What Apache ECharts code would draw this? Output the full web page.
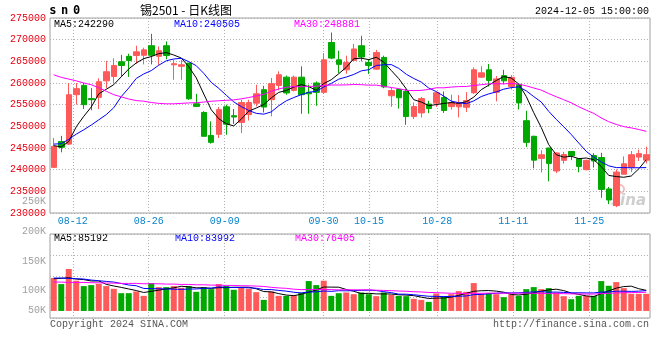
<!DOCTYPE html>
<html><head><meta charset="utf-8">
<script src="https://cdn.jsdelivr.net/npm/echarts@6/dist/echarts.min.js"></script>
<style>html,body{margin:0;padding:0;background:#fff}#c{width:660px;height:360px}</style>
</head><body><div id="c"></div>
<script>
// ---- data ----
const dates = ['08-07','08-08','08-09','08-12','08-13','08-14','08-15','08-16','08-19','08-20',
 '08-21','08-22','08-23','08-26','08-27','08-28','08-29','08-30','09-02','09-03',
 '09-04','09-05','09-06','09-09','09-10','09-11','09-12','09-13','09-18','09-19',
 '09-20','09-23','09-24','09-25','09-26','09-27','09-30','10-08','10-09','10-10',
 '10-11','10-14','10-15','10-16','10-17','10-18','10-21','10-22','10-23','10-24',
 '10-25','10-28','10-29','10-30','10-31','11-01','11-04','11-05','11-06','11-07',
 '11-08','11-11','11-12','11-13','11-14','11-15','11-18','11-19','11-20','11-21',
 '11-22','11-25','11-26','11-27','11-28','11-29','12-02','12-03','12-04','12-05'];
const labelDates = ['08-12','08-26','09-09','09-30','10-15','10-28','11-11','11-25'];

const opens = [240530,246500,245900,257300,259450,256400,256700,260500,261500,264900,
 266150,266350,266400,268600,266150,268600,264200,263850,264600,255200,
 253200,247900,248150,254500,252450,250900,252700,255350,258450,256150,
 259450,261350,258300,261350,257850,260000,257850,269350,265350,263050,
 265200,268600,264750,263200,265900,257050,258500,258050,252250,253100,
 255150,255350,256650,254550,254500,254400,257750,261350,263050,257850,
 261700,259200,259700,251300,247700,242600,245000,239700,242150,244200,
 242500,240000,243250,242800,235550,231700,238950,240550,242900,242200];
const closes = [245370,245150,257300,258700,255000,256150,260300,262600,264050,264050,
 265200,267200,267650,266400,267450,266350,264450,264200,256350,254600,
 247700,246300,253850,250500,252150,255500,255500,257500,254450,259850,
 261900,257700,261350,257300,257500,257850,265350,265750,264300,264750,
 267850,266000,264050,267050,259100,258250,256600,252250,254550,256400,
 254100,257750,253650,255500,255500,255950,263050,262350,260600,260950,
 260500,261300,255400,246300,242200,243450,241450,243850,243500,243200,
 240750,242150,242000,235450,233000,239450,241350,243450,243700,243450];
const lows = [240450,244000,245700,255000,254000,253700,254000,258800,260000,261500,
 261400,264450,264300,264300,264200,265500,260750,260750,256100,254450,
 247600,246000,247300,248050,250550,248450,251350,254600,253200,252300,
 258300,257300,258050,252900,252900,254750,257500,265500,262300,262150,
 265000,265000,262100,263050,258800,254500,254100,250350,251700,252050,
 253050,254450,253100,253850,252050,253300,257500,261150,259200,255750,
 259700,258500,253900,245200,240300,239350,237300,239200,241400,242200,
 239400,239850,240500,233500,232050,231350,238850,239450,242000,241450];
const highs = [247300,247800,260000,260000,260000,258800,261100,265100,265700,266500,
 266750,268600,268150,271350,268450,269600,265350,265350,264650,257500,
 253500,251150,254450,255000,254000,256150,256150,259600,259350,261150,
 262700,261700,261700,263850,259600,260350,266900,271650,267450,266300,
 269050,270900,265500,267650,266300,259000,258700,258600,255500,256800,
 255900,258050,258050,257300,257200,257900,263600,263850,264400,261600,
 263050,261800,259900,253600,247850,244500,245050,244000,244100,244300,
 242600,242300,243800,243900,236000,240050,243050,244300,244600,245300];
const volumes = [136000,111000,173400,124900,102700,106800,112400,102700,91600,73500,
 73500,80500,62400,115200,98500,98500,102700,95700,102700,79100,
 98500,90200,111000,102700,87400,98500,91600,77700,45800,80500,
 62400,62400,65200,74900,123500,106800,124900,62400,73500,76300,
 69400,76300,69400,61100,76300,66600,62400,61100,50000,45800,
 37500,72200,61100,69400,81900,79100,115200,72200,73500,69400,
 56900,68000,62400,90200,98500,90200,94400,76300,61100,48600,
 62400,62400,62400,123500,104100,119300,94400,70800,70800,70800];
// moving-average values at the left edge (history before the window)
const ma5Head = [245550,245250,246500,249900];
const ma10Head = [245900,246000,247000,248200,249200,250300,251500,252700,254300];
const ma30Head = [261900,261300,260900,260500,260000,259600,258900,258100,257300,256800,
 256300,255950,255800,255500,255300,255200,255200,255300,255400,255450,
 255600,255800,255900,256000,256100,256350,256650,257000,257400];
const volMa5Head = [133200,134600,137400,131800];
const volMa10Head = [136000,136000,134600,133200,131800,127700,124900,122100,119300];
const volMa30Head = [119300,119300,117900,117900,117900,116600,116600,115200,115200,113800,
 113800,113800,112400,112400,112400,111000,111000,109600,109600,108200,
 108200,106800,106800,105500,105500,104100,104100,102700,101300];
const priceMaLabels = ['MA5:242290','MA10:240505','MA30:248881'];
const volMaLabels = ['MA5:85192','MA10:83992','MA30:76405'];
const volTickLabels = ['200K','150K','100K','50K'];
const strayTickLabel = '250K';
const titleText = '锡2501 - 日K线图';
const stampText = '2024-12-05 15:00:00';
const footLeft = 'Copyright 2024 SINA.COM';
const footRight = 'http://finance.sina.com.cn';

// ---- chart ----
const MONO = 'Liberation Mono';
const RED = '#ff5a5a', GREEN = '#00a800', GRIDC = '#b0b0b0', BORDER = '#a0a0a0';
const MA_COLORS = ['#000000', '#0000ff', '#ff00ff'];
function calcMA(src, n, head) {
  return src.map((v, i) => {
    if (i < head.length) return head[i];
    let s = 0; for (let k = i - n + 1; k <= i; k++) s += src[k];
    return Math.round(s / n);
  });
}
const showIdx = (i) => labelDates.indexOf(dates[i]) >= 0;
const dotted = { color: GRIDC, type: [1, 2], width: 1 };

const chart = echarts.init(document.getElementById('c'), null, { renderer: 'canvas' });
function maLine(name, data, color, xi, yi) {
  return { name, type: 'line', data, xAxisIndex: xi, yAxisIndex: yi, showSymbol: false, symbol: 'none',
    lineStyle: { color, width: 1 }, z: 5, silent: true };
}
function txt(text, x, y, fill, font, align, valign) {
  return { type: 'text', silent: true, style: { text, x, y, fill, font, textAlign: align || 'left', align: align || 'left', textVerticalAlign: valign || 'middle', verticalAlign: valign || 'middle' } };
}
const volLabelY = [231, 261, 290, 310.5];
const graphics = [
  { type: 'text', silent: true, style: { text: '{a|s}{a|n}{a|0}', x: 47, y: 11, textVerticalAlign: 'middle', verticalAlign: 'middle',
    rich: { a: { font: 'bold 12px "DejaVu Sans Mono"', fill: '#000', padding: [0, 2.3, 0, 2.3] } } } },
  txt(titleText, 140, 10, '#000', '12px "Noto Sans CJK SC"'),
  txt(stampText, 649, 11, '#000', '10px ' + MONO, 'right'),
  txt(priceMaLabels[0], 54, 24, MA_COLORS[0], '10px ' + MONO),
  txt(priceMaLabels[1], 174, 24, MA_COLORS[1], '10px ' + MONO),
  txt(priceMaLabels[2], 294, 24, MA_COLORS[2], '10px ' + MONO),
  txt(volMaLabels[0], 54, 238.5, MA_COLORS[0], '10px ' + MONO),
  txt(volMaLabels[1], 175, 238.5, MA_COLORS[1], '10px ' + MONO),
  txt(volMaLabels[2], 295, 238.5, MA_COLORS[2], '10px ' + MONO),
  txt(strayTickLabel, 46, 201.5, '#a0a0a0', '10px ' + MONO, 'right'),
  txt(footLeft, 50, 324, '#555', '10px ' + MONO),
  txt(footRight, 649, 324, '#555', '10px ' + MONO, 'right'),
  { type: 'circle', silent: true, shape: { cx: 620, cy: 189, r: 4 }, style: { fill: 'none', stroke: 'rgba(235,150,150,0.6)', lineWidth: 2 } },
  txt('sina', 646, 201, 'rgba(185,185,185,0.7)', 'italic bold 15px "DejaVu Sans"', 'right')
];
volTickLabels.forEach((t, i) => graphics.push(txt(t, 46, volLabelY[i], '#a0a0a0', '10px ' + MONO, 'right')));

const option = {
  animation: false,
  backgroundColor: '#fff',
  grid: [
    { left: 50, top: 18, width: 600, height: 195, show: true, borderColor: BORDER, borderWidth: 1, backgroundColor: 'transparent' },
    { left: 50, top: 234, width: 600, height: 84, show: true, borderColor: BORDER, borderWidth: 1, backgroundColor: 'transparent' }
  ],
  xAxis: [
    { type: 'category', gridIndex: 0, position: 'top', data: dates, boundaryGap: true, show: false },
    { type: 'category', gridIndex: 0, position: 'bottom', data: dates, boundaryGap: false,
      axisLine: { show: false }, axisTick: { show: false },
      axisLabel: { interval: (i) => showIdx(i), color: '#0a84cc', fontFamily: MONO, fontSize: 10, margin: 3 },
      splitLine: { show: true, interval: (i) => showIdx(i), lineStyle: dotted } },
    { type: 'category', gridIndex: 1, position: 'top', data: dates, boundaryGap: true, show: false },
    { type: 'category', gridIndex: 1, position: 'bottom', data: dates, boundaryGap: false,
      axisLine: { show: false }, axisTick: { show: false }, axisLabel: { show: false },
      splitLine: { show: true, interval: (i) => showIdx(i), lineStyle: dotted } }
  ],
  yAxis: [
    { type: 'value', gridIndex: 0, min: 230000, max: 275000, interval: 5000,
      axisLine: { show: false }, axisTick: { show: false },
      axisLabel: { color: '#e60012', fontFamily: MONO, fontSize: 10, margin: 4, showMinLabel: true, showMaxLabel: true,
        formatter: (v) => String(v) },
      splitLine: { show: true, lineStyle: dotted } },
    { type: 'value', gridIndex: 1, min: -29100, max: 318000, interval: 86775,
      axisLine: { show: false }, axisTick: { show: false }, axisLabel: { show: false },
      splitLine: { show: true, lineStyle: dotted } }
  ],
  series: [
    { type: 'candlestick', xAxisIndex: 0, yAxisIndex: 0, barWidth: 6,
      data: opens.map((o, i) => [o, closes[i], lows[i], highs[i]]),
      itemStyle: { color: RED, color0: GREEN, borderColor: RED, borderColor0: GREEN, borderWidth: 1 }, z: 3 },
    maLine('MA5', calcMA(closes, 5, ma5Head), MA_COLORS[0], 0, 0),
    maLine('MA10', calcMA(closes, 10, ma10Head), MA_COLORS[1], 0, 0),
    maLine('MA30', calcMA(closes, 30, ma30Head), MA_COLORS[2], 0, 0),
    { type: 'bar', xAxisIndex: 2, yAxisIndex: 1, barWidth: 6, z: 3,
      data: volumes.map((v, i) => ({ value: v, itemStyle: { color: closes[i] >= opens[i] ? RED : GREEN } })) },
    maLine('VMA5', calcMA(volumes, 5, volMa5Head), MA_COLORS[0], 2, 1),
    maLine('VMA10', calcMA(volumes, 10, volMa10Head), MA_COLORS[1], 2, 1),
    maLine('VMA30', calcMA(volumes, 30, volMa30Head), MA_COLORS[2], 2, 1)
  ],
  graphic: graphics
};
chart.setOption(option);
</script></body></html>
